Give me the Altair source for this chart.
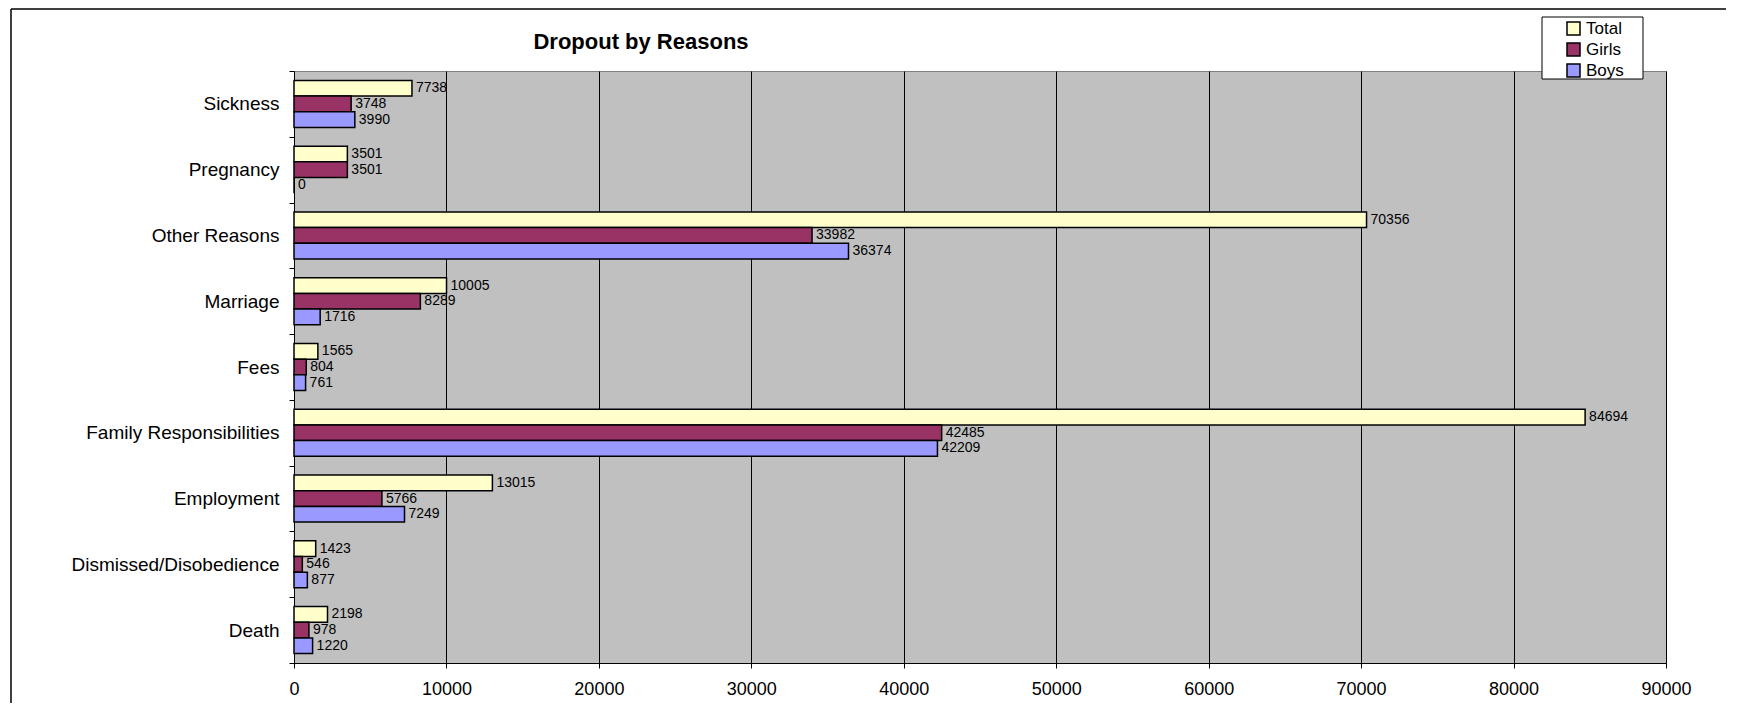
import altair as alt
import pandas as pd

categories = ["Sickness", "Pregnancy", "Other Reasons", "Marriage", "Fees",
              "Family Responsibilities", "Employment", "Dismissed/Disobedience", "Death"]
total = [7738, 3501, 70356, 10005, 1565, 84694, 13015, 1423, 2198]
girls = [3748, 3501, 33982, 8289, 804, 42485, 5766, 546, 978]
boys = [3990, 0, 36374, 1716, 761, 42209, 7249, 877, 1220]
series = ["Total", "Girls", "Boys"]
colors = ["#FFFFCC", "#993366", "#9999FF"]
x_ticks = [0, 10000, 20000, 30000, 40000, 50000, 60000, 70000, 80000, 90000]
title_text = "Dropout by Reasons"

rows = []
for i, c in enumerate(categories):
    for s, vals in zip(series, [total, girls, boys]):
        rows.append({"Reason": c, "Series": s, "Value": vals[i]})
df = pd.DataFrame(rows)

W, H = 1372, 592
FONT = "Liberation Sans"

y_enc = alt.Y("Reason:N", sort=categories,
              scale=alt.Scale(paddingInner=0, paddingOuter=0),
              axis=alt.Axis(title=None, labelFontSize=19, labelColor="black", labelFont=FONT,
                            labelLimit=500, tickBand="extent", tickSize=5, tickColor="black",
                            domainColor="black", labelPadding=10, grid=False))
yoff = alt.YOffset("Series:N", sort=series,
                   scale=alt.Scale(paddingInner=0, paddingOuter=0.6))
x_enc = alt.X("Value:Q", scale=alt.Scale(domain=[0, 90000], nice=False),
              axis=alt.Axis(title=None, values=x_ticks, format="d", grid=True, gridColor="black",
                            gridOpacity=1, gridWidth=1, domainColor="black", tickColor="black",
                            tickSize=5, labelFontSize=18, labelFont=FONT, labelColor="black",
                            labelPadding=12, labelFlush=False))
color_enc = alt.Color("Series:N", sort=series,
                      scale=alt.Scale(domain=series, range=colors),
                      legend=alt.Legend(title=None, orient="none", legendX=1271, legendY=-51,
                                        padding=0, labelFontSize=17, labelFont=FONT,
                                        labelColor="black", symbolType="square", symbolSize=169,
                                        symbolStrokeColor="black", symbolStrokeWidth=1.5,
                                        symbolOpacity=1, labelOffset=4, rowPadding=2))

base = alt.Chart(df)
bars = base.mark_bar(stroke="black", strokeWidth=1.5, opacity=1).encode(
    y=y_enc, yOffset=yoff, x=x_enc, color=color_enc)
labels = base.mark_text(align="left", baseline="middle", dx=4, fontSize=14, font=FONT,
                        color="black").encode(
    y=alt.Y("Reason:N", sort=categories),
    yOffset=alt.YOffset("Series:N", sort=series),
    x=alt.X("Value:Q"),
    text=alt.Text("Value:Q", format="d"))

one = alt.Chart(pd.DataFrame({"a": [0]}))
legend_box = one.mark_rect(fill="white", stroke="black", strokeWidth=1).encode(
    x=alt.value(1248), x2=alt.value(1349), y=alt.value(-54), y2=alt.value(8))
title = one.mark_text(fontSize=22, fontWeight="bold", font=FONT, color="black",
                      align="center", baseline="middle").encode(
    x=alt.value(347), y=alt.value(-29), text=alt.value(title_text))
frame_top = one.mark_rule(color="black", strokeWidth=1.5).encode(
    x=alt.value(-283), x2=alt.value(W + 60), y=alt.value(-62))
frame_left = one.mark_rule(color="black", strokeWidth=1.5).encode(
    x=alt.value(-283), y=alt.value(-62), y2=alt.value(H + 40))

chart = alt.layer(bars, labels, legend_box, title, frame_top, frame_left).properties(
    width=W, height=H,
    padding={"left": 286, "top": 63, "right": 60, "bottom": 40},
    autosize=alt.AutoSizeParams(type="none"),
).configure_view(fill="#C0C0C0", stroke="#808080", strokeWidth=1)

chart.save("out.html", embed_options={"renderer": "svg", "actions": False})
